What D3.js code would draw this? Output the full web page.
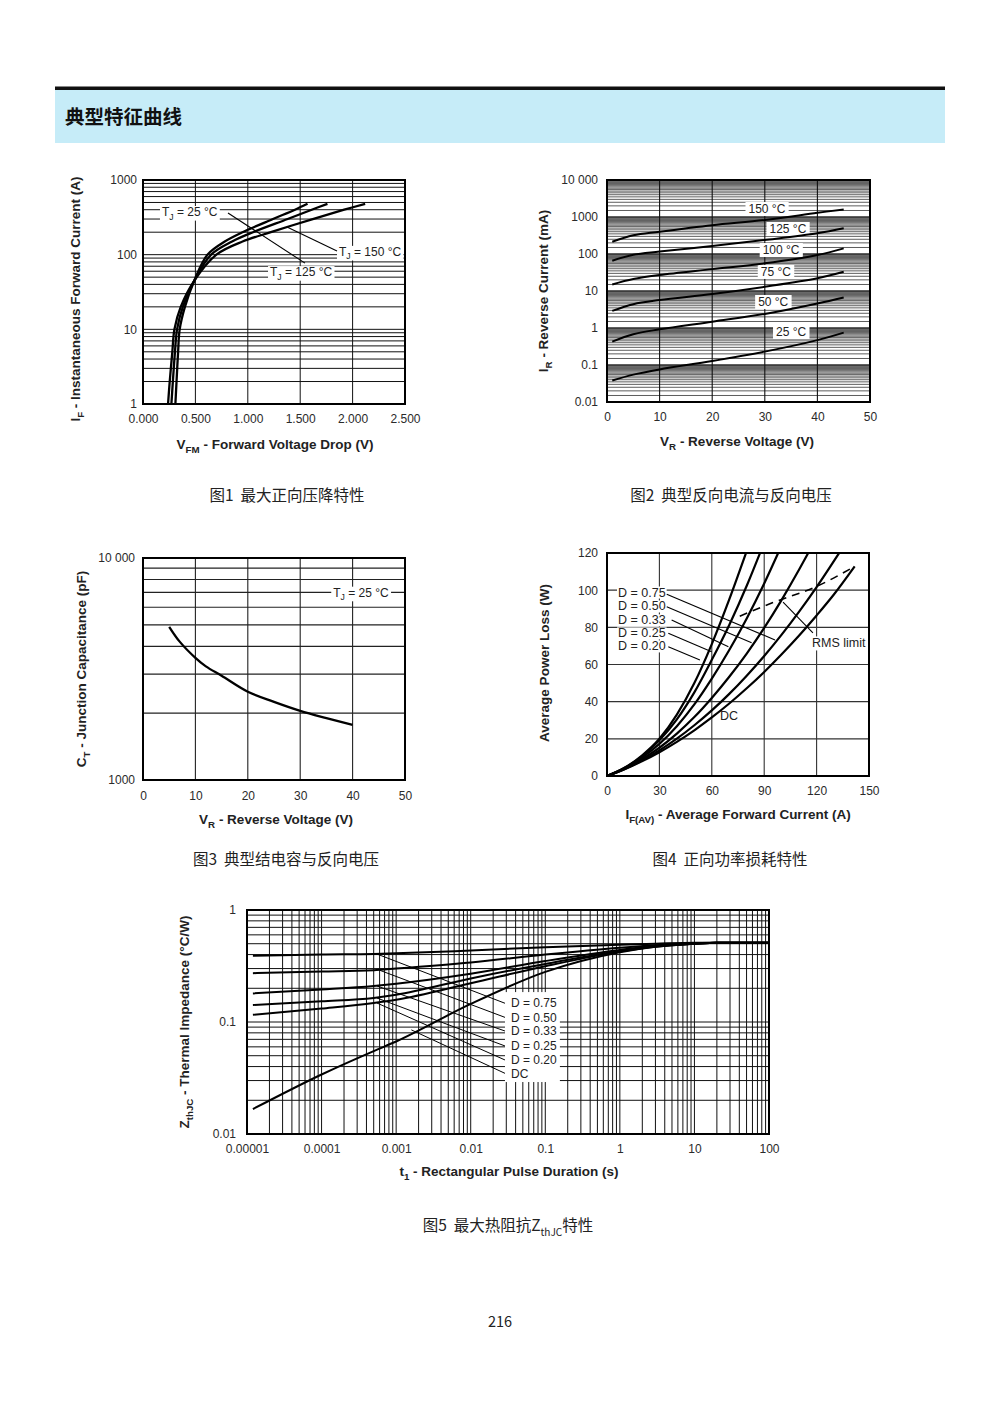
<!DOCTYPE html>
<html><head><meta charset="utf-8">
<script src="https://cdn.jsdelivr.net/npm/d3@7/dist/d3.min.js"></script>
<style>html,body{margin:0;padding:0;background:#fff}svg{display:block}</style>
</head><body>
<svg id="page" width="1000" height="1414" xmlns="http://www.w3.org/2000/svg"></svg>
<script>
// ================= DATA =================
// Fig 1 – forward voltage drop
const f1XTicks = [0, 0.5, 1, 1.5, 2, 2.5];
const f1XTickLabels = ["0.000", "0.500", "1.000", "1.500", "2.000", "2.500"];
const f1YTicks = [1, 10, 100, 1000];
const f1YTickLabels = ["1", "10", "100", "1000"];
const f1I = [1, 2, 5, 10, 20, 45, 100, 150, 200, 300, 400, 480];
const f1V25 = [0.309, 0.32, 0.335, 0.35, 0.40, 0.49, 0.615, 0.78, 0.95, 1.24, 1.45, 1.57];
const f1V125 = [0.271, 0.285, 0.305, 0.325, 0.38, 0.49, 0.65, 0.85, 1.05, 1.38, 1.61, 1.76];
const f1V150 = [0.239, 0.255, 0.28, 0.30, 0.36, 0.49, 0.70, 0.95, 1.22, 1.62, 1.92, 2.12];
const f1LabelText = ["25 °C", "150 °C", "125 °C"];
const f1LabelAt = [[0.181, 376], [1.87, 110], [1.212, 59]];
const f1Leaders = [[[0.811, 361], [1.546, 77]], [[1.374, 235], [1.851, 112]]];

// Fig 2 – reverse current
const f2XTicks = [0, 10, 20, 30, 40, 50];
const f2YTicks = [0.01, 0.1, 1, 10, 100, 1000, 10000];
const f2YTickLabels = ["0.01", "0.1", "1", "10", "100", "1000", "10 000"];
const f2V = [1, 5, 10, 20, 30, 40, 45];
const f2I150 = [215, 320, 400, 600, 830, 1300, 1600];
const f2I125 = [66, 95, 116, 164, 239, 363, 494];
const f2I100 = [15, 21, 27, 39, 56, 94, 142];
const f2I75 = [2.9, 4.4, 5.7, 8.3, 13, 22, 33];
const f2I50 = [0.43, 0.68, 0.92, 1.48, 2.4, 4.6, 6.7];
const f2I25 = [0.038, 0.055, 0.076, 0.128, 0.23, 0.47, 0.75];
const f2LabelText = ["150 °C", "125 °C", "100 °C", "75 °C", "50 °C", "25 °C"];
const f2LabelAt = [[30.4, 1644], [34.4, 474], [33.1, 128], [32.1, 32.7], [31.6, 5.05], [35, 0.78]];

// Fig 3 – junction capacitance
const f3XTicks = [0, 10, 20, 30, 40, 50];
const f3YTicks = [1000, 10000];
const f3YTickLabels = ["1000", "10 000"];
const f3V = [5, 7, 10, 12, 15, 20, 25, 30, 35, 40];
const f3C = [4900, 4200, 3550, 3250, 2950, 2500, 2250, 2050, 1900, 1770];
const f3LabelAt = [41.6, 7000];

// Fig 4 – power loss
const f4XTicks = [0, 30, 60, 90, 120, 150];
const f4YTicks = [0, 20, 40, 60, 80, 100, 120];
const f4I020 = [0, 10, 20, 30, 40, 50, 60, 70, 79.6];
const f4P020 = [0, 4.4, 11, 20, 33, 50, 71, 95, 120];
const f4I025 = [0, 10, 20, 30, 40, 50, 60, 70, 80, 87.6];
const f4P025 = [0, 4.3, 10.6, 19.2, 30.5, 45, 62.5, 81.3, 102.4, 120];
const f4I033 = [0, 10, 20, 30, 40, 50, 60, 70, 80, 90, 98];
const f4P033 = [0, 4.1, 9.9, 17.3, 26.8, 38.5, 52.4, 67.8, 84.8, 103.6, 120];
const f4I050 = [0, 10, 20, 30, 40, 50, 60, 70, 80, 90, 100, 110, 115.2];
const f4P050 = [0, 3.9, 9, 15.2, 22.8, 31.7, 42, 53.4, 65.9, 79.7, 94.8, 111.1, 120];
const f4I075 = [0, 10, 20, 30, 40, 50, 60, 70, 80, 90, 100, 110, 120, 132.9];
const f4P075 = [0, 3.7, 8.3, 13.8, 20.1, 27.3, 35.3, 44.2, 54, 64.6, 76.1, 88.5, 101.7, 120];
const f4IDC = [0, 10, 20, 30, 40, 50, 60, 70, 80, 90, 100, 110, 120, 130, 141.8];
const f4PDC = [0, 3.6, 7.9, 12.8, 18.4, 24.6, 31.5, 39, 47.2, 56, 65.5, 75.6, 86.4, 97.8, 112.8];
const f4RmsI = [76, 95, 120, 141.8];
const f4RmsP = [86, 93.3, 102, 112.8];
const f4LabelText = ["D = 0.75", "D = 0.50", "D = 0.33", "D = 0.25", "D = 0.20"];
const f4LabelAt = [[6.3, 99], [6.3, 91.5], [6.3, 84], [6.3, 77], [6.3, 70]];
const f4Leaders = [[[34.2, 97.8], [96.2, 73.2]], [[34.2, 91.1], [82.8, 71.7]], [[37, 84], [69.5, 69.6]],
                   [[35.1, 76.8], [59.9, 66.9]], [[35.1, 69.6], [53.2, 62.4]]];
const f4RmsLeader = [[100.8, 93.6], [117.9, 77]];
const f4RmsLabelAt = [117.4, 71.6];
const f4DCLabelAt = [64.7, 32.3];

// Fig 5 – thermal impedance
const f5XTicks = [1e-5, 1e-4, 1e-3, 1e-2, 1e-1, 1, 10, 100];
const f5XTickLabels = ["0.00001", "0.0001", "0.001", "0.01", "0.1", "1", "10", "100"];
const f5YTicks = [0.01, 0.1, 1];
const f5YTickLabels = ["0.01", "0.1", "1"];
const f5T = [1.2e-5, 1e-4, 5e-4, 1e-3, 1e-2, 1e-1, 1, 3, 10, 20, 100];
const f5Z075 = [0.39, 0.40, 0.405, 0.41, 0.435, 0.465, 0.49, 0.50, 0.51, 0.51, 0.51];
const f5Z050 = [0.273, 0.282, 0.29, 0.30, 0.34, 0.40, 0.46, 0.485, 0.505, 0.51, 0.51];
const f5Z033 = [0.18, 0.195, 0.21, 0.22, 0.27, 0.35, 0.44, 0.48, 0.50, 0.51, 0.51];
const f5Z025 = [0.142, 0.153, 0.164, 0.175, 0.245, 0.33, 0.43, 0.475, 0.50, 0.51, 0.51];
const f5Z020 = [0.116, 0.132, 0.148, 0.158, 0.222, 0.315, 0.425, 0.47, 0.50, 0.51, 0.51];
const f5ZDC = [0.0167, 0.034, 0.055, 0.067, 0.145, 0.28, 0.42, 0.47, 0.50, 0.51, 0.51];
const f5LabelText = ["D = 0.75", "D = 0.50", "D = 0.33", "D = 0.25", "D = 0.20", "DC"];
const f5LabelZ = [0.147, 0.110, 0.0831, 0.0611, 0.0458, 0.0348];
const f5LabelT = 0.0347;
const f5LeaderEndT = 0.0288;
const f5LeaderStart = [[5.5e-4, 0.405], [6e-4, 0.29], [5.5e-4, 0.21], [5.5e-4, 0.164], [5.5e-4, 0.148], [1.6e-3, 0.085]];
const f5Mask = [[0.0288, 0.185], [0.157, 0.0291]];

const minorMults = [1, 2, 3, 4, 5, 6, 7, 8, 9];
const denseMults = [1, 1.5, 2, 2.5, 3, 3.5, 4, 4.5, 5, 5.5, 6, 6.5, 7, 7.5, 8, 8.5, 9, 9.5];

// ================= DRAWING =================
const svg = d3.select("#page");
const SANS = "'Liberation Sans', Arial, Helvetica, sans-serif";
const CJK = "'Noto Sans CJK SC', 'Noto Sans CJK JP', sans-serif";
const TICK = 12, TITLE = 13.5;

function logLines(lo, hi, mults) {
  const out = [];
  for (let d = lo; d < hi * 0.999; d *= 10) mults.forEach(m => out.push(m * d));
  out.push(hi);
  return out;
}

function rich(g, x, y, parts, o) {
  const size = o.size;
  const t = g.append("text").attr("x", x).attr("y", y)
    .attr("font-family", o.family || SANS).attr("font-size", size)
    .attr("font-weight", o.weight || 400).attr("fill", o.fill || "#222")
    .attr("text-anchor", o.anchor || "start").style("white-space", "pre");
  if (o.rotate) t.attr("transform", `rotate(-90,${x},${y})`);
  let inSub = false;
  parts.forEach(p => {
    const isSub = Array.isArray(p);
    const s = t.append("tspan").text(isSub ? p[0] : p);
    if (isSub) {
      s.attr("font-size", size * (o.subScale || 0.72));
      if (!inSub) s.attr("dy", size * 0.3);
      inSub = true;
    } else {
      if (inSub) s.attr("dy", -size * 0.3);
      inSub = false;
    }
  });
  return t;
}

function mask(g, t, padX, padY) {
  const b = t.node().getBBox();
  g.insert("rect", () => t.node())
    .attr("x", b.x - padX).attr("y", b.y + padY)
    .attr("width", b.width + 2 * padX).attr("height", b.height - 2 * padY)
    .attr("fill", "#fff");
}

function grid(g, x, y, xs, ys, color, w) {
  const [yb, yt] = y.range(), [xl, xr] = x.range();
  g.append("g").selectAll("line").data(xs).join("line")
    .attr("x1", d => x(d)).attr("x2", d => x(d)).attr("y1", yb).attr("y2", yt)
    .attr("stroke", color).attr("stroke-width", w);
  g.append("g").selectAll("line").data(ys).join("line")
    .attr("y1", d => y(d)).attr("y2", d => y(d)).attr("x1", xl).attr("x2", xr)
    .attr("stroke", color).attr("stroke-width", w);
}

function frame(g, x, y) {
  const [yb, yt] = y.range(), [xl, xr] = x.range();
  g.append("rect").attr("x", xl).attr("y", yt).attr("width", xr - xl).attr("height", yb - yt)
    .attr("fill", "none").attr("stroke", "#000").attr("stroke-width", 2);
}

function axes(g, x, y, xt, xl, yt, yl, padX, padY) {
  const ax = g.append("g").attr("transform", `translate(0,${y.range()[0]})`)
    .call(d3.axisBottom(x).tickValues(xt).tickFormat((d, i) => xl[i]).tickSize(0).tickPadding(padX));
  const ay = g.append("g").attr("transform", `translate(${x.range()[0]},0)`)
    .call(d3.axisLeft(y).tickValues(yt).tickFormat((d, i) => yl[i]).tickSize(0).tickPadding(padY));
  [ax, ay].forEach(a => {
    a.select(".domain").remove();
    a.attr("font-family", SANS).attr("font-size", TICK);
    a.selectAll("text").attr("fill", "#2a2a2a");
  });
}

function curve(g, x, y, xs, ys, w, curveType) {
  const line = d3.line().x(d => x(d[0])).y(d => y(d[1])).curve(curveType || d3.curveMonotoneX);
  return g.append("path").attr("d", line(d3.zip(xs, ys))).attr("fill", "none")
    .attr("stroke", "#000").attr("stroke-width", w).attr("stroke-linejoin", "round");
}

function seg(g, x, y, pts, w) {
  g.append("line").attr("x1", x(pts[0][0])).attr("y1", y(pts[0][1]))
    .attr("x2", x(pts[1][0])).attr("y2", y(pts[1][1]))
    .attr("stroke", "#000").attr("stroke-width", w);
}

// ---- Header ----
svg.append("rect").attr("x", 55).attr("y", 86.5).attr("width", 890).attr("height", 3.5).attr("fill", "#111");
svg.append("rect").attr("x", 55).attr("y", 90).attr("width", 890).attr("height", 53).attr("fill", "#c6ecf8");
svg.append("text").attr("x", 65).attr("y", 124).attr("font-family", CJK).attr("font-weight", 700)
  .attr("font-size", 19.5).attr("fill", "#111").text("典型特征曲线");

// ---- Fig 1 ----
{
  const g = svg.append("g");
  const x = d3.scaleLinear().domain([0, 2.5]).range([143, 405]);
  const y = d3.scaleLog().domain([1, 1000]).range([404, 180]);
  grid(g, x, y, f1XTicks, logLines(1, 1000, minorMults), "#111", 1);
  frame(g, x, y);
  axes(g, x, y, f1XTicks, f1XTickLabels, f1YTicks, f1YTickLabels, 10, 6);
  f1LabelAt.forEach((p, i) => {
    const t = rich(g, x(p[0]), y(p[1]) + 4.3, ["T", ["J"], " = " + f1LabelText[i]], { size: 12, fill: "#222" });
    mask(g, t, 2, 1);
  });
  const cr = d3.curveCatmullRom.alpha(0.5);
  curve(g, x, y, f1V25, f1I, 2.3, cr);
  curve(g, x, y, f1V125, f1I, 2.3, cr);
  curve(g, x, y, f1V150, f1I, 2.3, cr);
  f1Leaders.forEach(l => seg(g, x, y, l, 1.1));
  rich(g, 275, 449, ["V", ["FM"], " - Forward Voltage Drop (V)"], { size: TITLE, weight: 700, anchor: "middle", fill: "#222" });
  rich(g, 80, 299, ["I", ["F"], " - Instantaneous Forward Current (A)"], { size: TITLE, weight: 700, anchor: "middle", rotate: true, fill: "#222" });
}

// ---- Fig 2 ----
{
  const g = svg.append("g");
  const x = d3.scaleLinear().domain([0, 50]).range([607, 870]);
  const y = d3.scaleLog().domain([0.01, 10000]).range([402, 180]);
  grid(g, x, y, [], logLines(0.01, 10000, denseMults), "#333", 0.8);
  grid(g, x, y, f2XTicks, f2YTicks, "#111", 1.1);
  frame(g, x, y);
  axes(g, x, y, f2XTicks, f2XTicks.map(String), f2YTicks, f2YTickLabels, 10.5, 9);
  f2LabelAt.forEach((p, i) => {
    const t = g.append("text").attr("x", x(p[0])).attr("y", y(p[1]) + 4).attr("text-anchor", "middle")
      .attr("font-family", SANS).attr("font-size", 12).attr("fill", "#222").text(f2LabelText[i]);
    mask(g, t, 3, 0);
  });
  const cr = d3.curveCatmullRom.alpha(0.5);
  [f2I150, f2I125, f2I100, f2I75, f2I50, f2I25].forEach(s => curve(g, x, y, f2V, s, 2, cr));
  rich(g, 737, 446, ["V", ["R"], " - Reverse Voltage (V)"], { size: TITLE, weight: 700, anchor: "middle" });
  rich(g, 548, 291, ["I", ["R"], " - Reverse Current (mA)"], { size: TITLE, weight: 700, anchor: "middle", rotate: true });
}

// ---- Fig 3 ----
{
  const g = svg.append("g");
  const x = d3.scaleLinear().domain([0, 50]).range([143, 405]);
  const y = d3.scaleLog().domain([1000, 10000]).range([780, 558]);
  grid(g, x, y, f3XTicks, logLines(1000, 10000, minorMults), "#222", 1.1);
  frame(g, x, y);
  axes(g, x, y, f3XTicks, f3XTicks.map(String), f3YTicks, f3YTickLabels, 11, 8);
  const t = rich(g, x(f3LabelAt[0]), y(f3LabelAt[1]) + 4.3, ["T", ["J"], " = 25 °C"], { size: 12, anchor: "middle", fill: "#222" });
  mask(g, t, 2, 1);
  curve(g, x, y, f3V, f3C, 2.3, d3.curveCatmullRom.alpha(0.5));
  rich(g, 276, 824, ["V", ["R"], " - Reverse Voltage (V)"], { size: TITLE, weight: 700, anchor: "middle" });
  rich(g, 86, 669, ["C", ["T"], " - Junction Capacitance (pF)"], { size: TITLE, weight: 700, anchor: "middle", rotate: true });
}

// ---- Fig 4 ----
{
  const g = svg.append("g");
  const x = d3.scaleLinear().domain([0, 150]).range([607, 869]);
  const y = d3.scaleLinear().domain([0, 120]).range([776, 553]);
  grid(g, x, y, f4XTicks, f4YTicks, "#333", 1.1);
  frame(g, x, y);
  axes(g, x, y, f4XTicks, f4XTicks.map(String), f4YTicks, f4YTicks.map(String), 10, 9);
  f4LabelAt.forEach((p, i) => {
    const t = g.append("text").attr("x", x(p[0])).attr("y", y(p[1]) + 4.5)
      .attr("font-family", SANS).attr("font-size", 12.5).attr("fill", "#222").text(f4LabelText[i]);
    mask(g, t, 1, 1);
  });
  const rt = g.append("text").attr("x", x(f4RmsLabelAt[0])).attr("y", y(f4RmsLabelAt[1]) + 4.5)
    .attr("font-family", SANS).attr("font-size", 12.5).attr("fill", "#222").text("RMS limit");
  mask(g, rt, 1, 0);
  g.append("text").attr("x", x(f4DCLabelAt[0])).attr("y", y(f4DCLabelAt[1]) + 4.5)
    .attr("font-family", SANS).attr("font-size", 12.5).attr("fill", "#222").text("DC");
  [[f4I020, f4P020], [f4I025, f4P025], [f4I033, f4P033], [f4I050, f4P050], [f4I075, f4P075], [f4IDC, f4PDC]]
    .forEach(s => curve(g, x, y, s[0], s[1], 2.2));
  curve(g, x, y, f4RmsI, f4RmsP, 1.6).attr("stroke-dasharray", "8,6");
  f4Leaders.forEach(l => seg(g, x, y, l, 1.1));
  seg(g, x, y, f4RmsLeader, 1.1);
  rich(g, 738, 819, ["I", ["F(AV)"], " - Average Forward Current (A)"], { size: TITLE, weight: 700, anchor: "middle" });
  rich(g, 549, 663, ["Average Power Loss (W)"], { size: TITLE, weight: 700, anchor: "middle", rotate: true });
}

// ---- Fig 5 ----
{
  const g = svg.append("g");
  const x = d3.scaleLog().domain([1e-5, 100]).range([247, 769]);
  const y = d3.scaleLog().domain([0.01, 1]).range([1134, 910]);
  grid(g, x, y, logLines(1e-5, 100, minorMults), logLines(0.01, 1, minorMults), "#111", 1);
  frame(g, x, y);
  axes(g, x, y, f5XTicks, f5XTickLabels, f5YTicks, f5YTickLabels, 10, 11);
  g.append("rect").attr("x", x(f5Mask[0][0])).attr("y", y(f5Mask[0][1]))
    .attr("width", x(f5Mask[1][0]) - x(f5Mask[0][0])).attr("height", y(f5Mask[1][1]) - y(f5Mask[0][1]))
    .attr("fill", "#fff");
  [f5Z075, f5Z050, f5Z033, f5Z025, f5Z020, f5ZDC].forEach(s => curve(g, x, y, f5T, s, 2));
  f5LeaderStart.forEach((p, i) => seg(g, x, y, [p, [f5LeaderEndT, f5LabelZ[i]]], 1));
  f5LabelText.forEach((s, i) => {
    g.append("text").attr("x", x(f5LabelT)).attr("y", y(f5LabelZ[i]) + 4.2)
      .attr("font-family", SANS).attr("font-size", 12).attr("fill", "#222").text(s);
  });
  rich(g, 509, 1176, ["t", ["1"], " - Rectangular Pulse Duration (s)"], { size: TITLE, weight: 700, anchor: "middle" });
  rich(g, 189, 1022, ["Z", ["thJC"], " - Thermal Impedance (°C/W)"], { size: TITLE, weight: 700, anchor: "middle", rotate: true });
}

// ---- Captions ----
function caption(x, y, parts) {
  rich(svg, x, y, parts, { size: 15.5, family: CJK, anchor: "middle", fill: "#222", subScale: 0.65 });
}
caption(287, 501, ["图1\u00a0\u00a0最大正向压降特性"]);
caption(731, 501, ["图2\u00a0\u00a0典型反向电流与反向电压"]);
caption(286, 865, ["图3\u00a0\u00a0典型结电容与反向电压"]);
caption(730, 865, ["图4\u00a0\u00a0正向功率损耗特性"]);
caption(508, 1231, ["图5\u00a0\u00a0最大热阻抗Z", ["thJC"], "特性"]);
svg.append("text").attr("x", 500).attr("y", 1327).attr("text-anchor", "middle")
  .attr("font-family", CJK).attr("font-size", 14.5).attr("fill", "#222").text("216");
</script>
</body></html>
